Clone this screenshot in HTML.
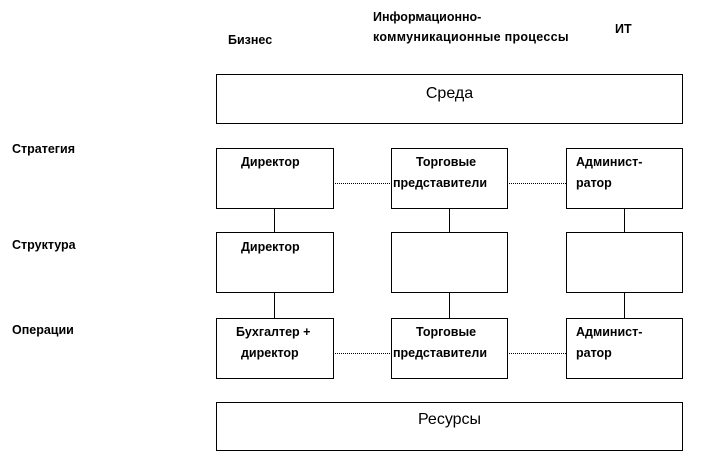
<!DOCTYPE html><html><head><style>
body{margin:0;width:723px;height:454px;background:#fff;position:relative;font-family:"Liberation Sans",sans-serif;font-size:12.5px;font-weight:bold;color:#000;overflow:hidden}
.t{position:absolute;white-space:nowrap;letter-spacing:0}
.b{position:absolute;border:1px solid #000;box-sizing:border-box}
.l{position:absolute;background:#000}
.d{position:absolute;border-top:1px dotted #000;height:0}
</style></head><body>
<div class="t" style="left:228px;top:33px">Бизнес</div>
<div class="t" style="left:373px;top:10px">Информационно-</div>
<div class="t" style="left:373px;top:30px;letter-spacing:0.3px">коммуникационные процессы</div>
<div class="t" style="left:615px;top:22px">ИТ</div>
<div class="t" style="left:12px;top:142px">Стратегия</div>
<div class="t" style="left:12px;top:238px">Структура</div>
<div class="t" style="left:12px;top:323px">Операции</div>

<div class="b" style="left:216px;top:74px;width:467px;height:50px"></div>
<div class="t" style="left:216px;width:467px;text-align:center;top:85px;font-size:16px;font-weight:normal">Среда</div>
<div class="b" style="left:216px;top:402px;width:467px;height:49px"></div>
<div class="t" style="left:216px;width:467px;text-align:center;top:411px;font-size:16px;font-weight:normal">Ресурсы</div>

<div class="l" style="left:274px;top:208px;width:1px;height:110px"></div>
<div class="l" style="left:449px;top:208px;width:1px;height:110px"></div>
<div class="l" style="left:624px;top:208px;width:1px;height:110px"></div>
<div class="d" style="left:333px;top:183px;width:233px"></div>
<div class="d" style="left:333px;top:353px;width:233px"></div>

<div class="b" style="left:216px;top:148px;width:118px;height:61px;background:#fff"></div>
<div class="b" style="left:391px;top:148px;width:117px;height:61px;background:#fff"></div>
<div class="b" style="left:566px;top:148px;width:117px;height:61px;background:#fff"></div>
<div class="b" style="left:216px;top:232px;width:118px;height:61px;background:#fff"></div>
<div class="b" style="left:391px;top:232px;width:117px;height:61px;background:#fff"></div>
<div class="b" style="left:566px;top:232px;width:117px;height:61px;background:#fff"></div>
<div class="b" style="left:216px;top:318px;width:118px;height:61px;background:#fff"></div>
<div class="b" style="left:391px;top:318px;width:117px;height:61px;background:#fff"></div>
<div class="b" style="left:566px;top:318px;width:117px;height:61px;background:#fff"></div>

<div class="t" style="left:241px;top:155px">Директор</div>
<div class="t" style="left:416px;top:155px">Торговые</div>
<div class="t" style="left:393px;top:176px">представители</div>
<div class="t" style="left:576px;top:155px">Админист-</div>
<div class="t" style="left:576px;top:176px">ратор</div>
<div class="t" style="left:241px;top:240px">Директор</div>
<div class="t" style="left:236px;top:325px">Бухгалтер +</div>
<div class="t" style="left:241px;top:346px">директор</div>
<div class="t" style="left:416px;top:325px">Торговые</div>
<div class="t" style="left:393px;top:346px">представители</div>
<div class="t" style="left:576px;top:325px">Админист-</div>
<div class="t" style="left:576px;top:346px">ратор</div>
</body></html>
